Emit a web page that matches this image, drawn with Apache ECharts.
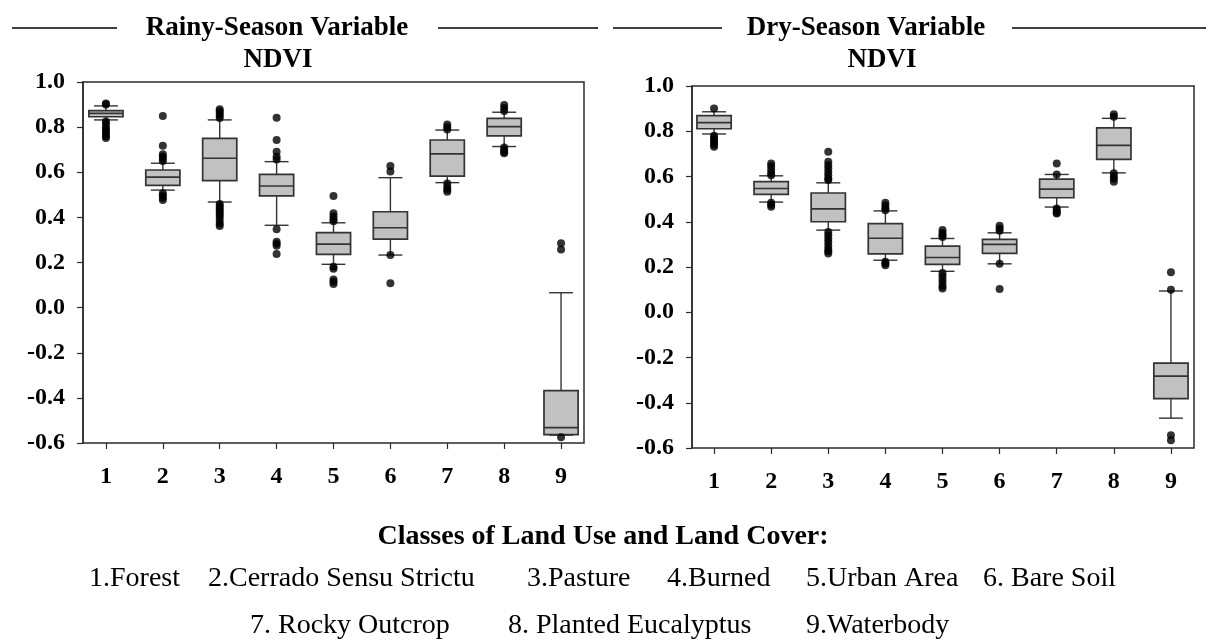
<!DOCTYPE html>
<html>
<head>
<meta charset="utf-8">
<script src="https://cdn.jsdelivr.net/npm/echarts@6/dist/echarts.min.js"></script>
<style>
  html, body { margin: 0; padding: 0; background: #fff; }
  #chart { width: 1216px; height: 643px; }
</style>
</head>
<body>
<div id="chart"></div>
<script>
// Land use / land cover classes on the x axis
const classes = ['1', '2', '3', '4', '5', '6', '7', '8', '9'];
const classNames = ['1.Forest', '2.Cerrado Sensu Strictu', '3.Pasture', '4.Burned', '5.Urban Area',
                    '6. Bare Soil', '7. Rocky Outcrop', '8. Planted Eucalyptus', '9.Waterbody'];

// NDVI axis range
const ndviMin = -0.6;
const ndviMax = 1.0;
const ndviStep = 0.2;

// Rainy season NDVI: whiskers, quartiles, median per class
const rainyLow    = [0.832, 0.521, 0.468, 0.365, 0.192, 0.233, 0.554, 0.714, -0.565];
const rainyQ1     = [0.846, 0.542, 0.563, 0.495, 0.236, 0.304, 0.583, 0.761, -0.563];
const rainyMedian = [0.861, 0.578, 0.662, 0.539, 0.281, 0.354, 0.681, 0.802, -0.532];
const rainyQ3     = [0.873, 0.610, 0.750, 0.591, 0.332, 0.425, 0.743, 0.839, -0.368];
const rainyHigh   = [0.894, 0.640, 0.832, 0.647, 0.376, 0.576, 0.787, 0.866, 0.066];
const rainyOutliers = [
  [0.905, 0.900, 0.825, 0.815, 0.800, 0.790, 0.780, 0.770, 0.760, 0.752],
  [0.849, 0.718, 0.680, 0.670, 0.660, 0.650, 0.507, 0.497, 0.487, 0.477],
  [0.879, 0.870, 0.860, 0.850, 0.840, 0.459, 0.450, 0.440, 0.430, 0.420, 0.410, 0.400, 0.385, 0.372, 0.362],
  [0.842, 0.743, 0.691, 0.669, 0.657, 0.347, 0.292, 0.283, 0.274, 0.238],
  [0.495, 0.418, 0.405, 0.392, 0.383, 0.181, 0.172, 0.125, 0.115, 0.105],
  [0.628, 0.603, 0.233, 0.108],
  [0.812, 0.800, 0.790, 0.550, 0.535, 0.523, 0.514],
  [0.898, 0.885, 0.872, 0.710, 0.700, 0.690, 0.684],
  [0.285, 0.258, -0.575]
];

// Dry season NDVI: whiskers, quartiles, median per class
const dryLow    = [0.788, 0.487, 0.363, 0.230, 0.181, 0.214, 0.465, 0.616, -0.468];
const dryQ1     = [0.811, 0.521, 0.400, 0.258, 0.212, 0.260, 0.506, 0.676, -0.382];
const dryMedian = [0.838, 0.547, 0.457, 0.327, 0.242, 0.300, 0.544, 0.738, -0.282];
const dryQ3     = [0.869, 0.577, 0.527, 0.392, 0.292, 0.322, 0.588, 0.815, -0.225];
const dryHigh   = [0.886, 0.603, 0.572, 0.448, 0.326, 0.351, 0.609, 0.857, 0.094];
const dryOutliers = [
  [0.901, 0.780, 0.770, 0.760, 0.750, 0.740, 0.731],
  [0.658, 0.645, 0.630, 0.615, 0.606, 0.484, 0.475, 0.466],
  [0.709, 0.665, 0.650, 0.635, 0.620, 0.605, 0.590, 0.584, 0.355, 0.340, 0.325, 0.310, 0.295, 0.280, 0.270, 0.260],
  [0.484, 0.472, 0.460, 0.451, 0.223, 0.215, 0.208],
  [0.363, 0.350, 0.340, 0.333, 0.174, 0.160, 0.145, 0.130, 0.115, 0.105],
  [0.382, 0.370, 0.360, 0.214, 0.103],
  [0.658, 0.609, 0.459, 0.450, 0.440, 0.437],
  [0.875, 0.864, 0.614, 0.600, 0.590, 0.577],
  [0.177, 0.100, -0.544, -0.566]
];

const SERIF = '"Liberation Serif", "Times New Roman", serif';
const INK = '#2b2b2b';

function boxRows(low, q1, med, q3, high) {
  return classes.map((c, i) => [i, low[i], q1[i], med[i], q3[i], high[i]]);
}
function outlierPoints(lists) {
  const pts = [];
  lists.forEach((vals, i) => vals.forEach(v => pts.push([i, v])));
  return pts;
}

// Box with whiskers and short caps, positioned through the axis scales
function renderBox(params, api) {
  const x = api.value(0);
  const lo = api.coord([x, api.value(1)]);
  const q1 = api.coord([x, api.value(2)]);
  const md = api.coord([x, api.value(3)]);
  const q3 = api.coord([x, api.value(4)]);
  const hi = api.coord([x, api.value(5)]);
  const band = api.size([1, 0])[0];
  const bw = band * 0.30;
  const cw = band * 0.21;
  const cx = lo[0];
  const ls = { stroke: '#333', lineWidth: 1.4 };
  return {
    type: 'group',
    children: [
      { type: 'line', shape: { x1: cx, y1: hi[1], x2: cx, y2: q3[1] }, style: ls },
      { type: 'line', shape: { x1: cx, y1: q1[1], x2: cx, y2: lo[1] }, style: ls },
      { type: 'line', shape: { x1: cx - cw, y1: hi[1], x2: cx + cw, y2: hi[1] }, style: ls },
      { type: 'line', shape: { x1: cx - cw, y1: lo[1], x2: cx + cw, y2: lo[1] }, style: ls },
      { type: 'rect', shape: { x: cx - bw, y: q3[1], width: 2 * bw, height: q1[1] - q3[1] },
        style: { fill: '#c1c1c1', stroke: '#333', lineWidth: 1.7 } },
      { type: 'line', shape: { x1: cx - bw, y1: md[1], x2: cx + bw, y2: md[1] },
        style: { stroke: '#333', lineWidth: 1.7 } }
    ]
  };
}

function fmtTick(v) {
  if (Math.abs(v) < 1e-9) return '0.0';
  return v.toFixed(1);
}

const panels = [
  { frame: { left: 83, top: 82, width: 501, height: 361 },
    data:  { left: 77.5, top: 82, width: 512, height: 361 },
    box: boxRows(rainyLow, rainyQ1, rainyMedian, rainyQ3, rainyHigh),
    out: outlierPoints(rainyOutliers) },
  { frame: { left: 692, top: 86, width: 502, height: 362 },
    data:  { left: 685.5, top: 86, width: 514, height: 362 },
    box: boxRows(dryLow, dryQ1, dryMedian, dryQ3, dryHigh),
    out: outlierPoints(dryOutliers) }
];

const grid = [], xAxis = [], yAxis = [], series = [];
panels.forEach((p) => {
  const gf = grid.length;
  grid.push(Object.assign({ show: true, borderColor: INK, borderWidth: 1.5, backgroundColor: 'transparent' }, p.frame));
  const gd = grid.length;
  grid.push(Object.assign({}, p.data));

  xAxis.push({ gridIndex: gf, type: 'value', min: 0, max: 1, show: false });
  yAxis.push({
    gridIndex: gf, type: 'value', min: ndviMin, max: ndviMax, interval: ndviStep,
    axisLine: { show: true, onZero: false, lineStyle: { color: INK, width: 1.5 } },
    axisTick: { show: true, length: 6, lineStyle: { color: INK, width: 1.2 } },
    splitLine: { show: false },
    axisLabel: { color: '#000', fontFamily: SERIF, fontWeight: 'bold', fontSize: 24, margin: 18, formatter: fmtTick }
  });

  const xd = xAxis.length;
  xAxis.push({
    gridIndex: gd, type: 'category', data: classes, boundaryGap: true, position: 'bottom',
    axisLine: { show: false, onZero: false },
    axisTick: { show: true, alignWithLabel: true, length: 6, lineStyle: { color: INK, width: 1.2 } },
    axisLabel: { color: '#000', fontFamily: SERIF, fontWeight: 'bold', fontSize: 24, margin: 22 },
    splitLine: { show: false }
  });
  const yd = yAxis.length;
  yAxis.push({ gridIndex: gd, type: 'value', min: ndviMin, max: ndviMax, interval: ndviStep, show: false, splitLine: { show: false } });

  series.push({
    type: 'custom', xAxisIndex: xd, yAxisIndex: yd, renderItem: renderBox,
    encode: { x: 0, y: [1, 2, 3, 4, 5] }, data: p.box, z: 2, silent: true
  });
  series.push({
    type: 'scatter', xAxisIndex: xd, yAxisIndex: yd, data: p.out, symbol: 'circle', symbolSize: 8,
    itemStyle: { color: '#000' }, z: 3, silent: true
  });
});

// Headings, rules beside them, and the class key underneath
const titleFont = 'bold 27px ' + SERIF;
const rule = (x1, x2, y) => ({ type: 'line', shape: { x1, y1: y, x2, y2: y }, style: { stroke: '#000', lineWidth: 1.6 } });
const txt = (text, x, y, font, align) => ({
  type: 'text', x, y,
  style: { text, font, fill: '#000', align: align || 'center', verticalAlign: 'middle' }
});

const keyRow1 = [[classNames[0], 89], [classNames[1], 208], [classNames[2], 527], [classNames[3], 667], [classNames[4], 806], [classNames[5], 983]];
const keyRow2 = [[classNames[6], 250], [classNames[7], 508], [classNames[8], 806]];
const keyFont = '28px ' + SERIF;

const graphic = [
  rule(12, 117, 28), rule(438, 598, 28),
  txt('Rainy-Season Variable', 277, 28, titleFont),
  txt('NDVI', 278, 60, titleFont),
  rule(613, 722, 28), rule(1012, 1206, 28),
  txt('Dry-Season Variable', 866, 28, titleFont),
  txt('NDVI', 882, 60, titleFont),
  txt('Classes of Land Use and Land Cover:', 603, 537, 'bold 28px ' + SERIF)
];
keyRow1.forEach(([t, x]) => graphic.push(txt(t, x, 579, keyFont, 'left')));
keyRow2.forEach(([t, x]) => graphic.push(txt(t, x, 626, keyFont, 'left')));

const chart = echarts.init(document.getElementById('chart'), null, { renderer: 'canvas' });
chart.setOption({
  animation: false,
  backgroundColor: '#fff',
  grid, xAxis, yAxis, series, graphic
});
</script>
</body>
</html>
